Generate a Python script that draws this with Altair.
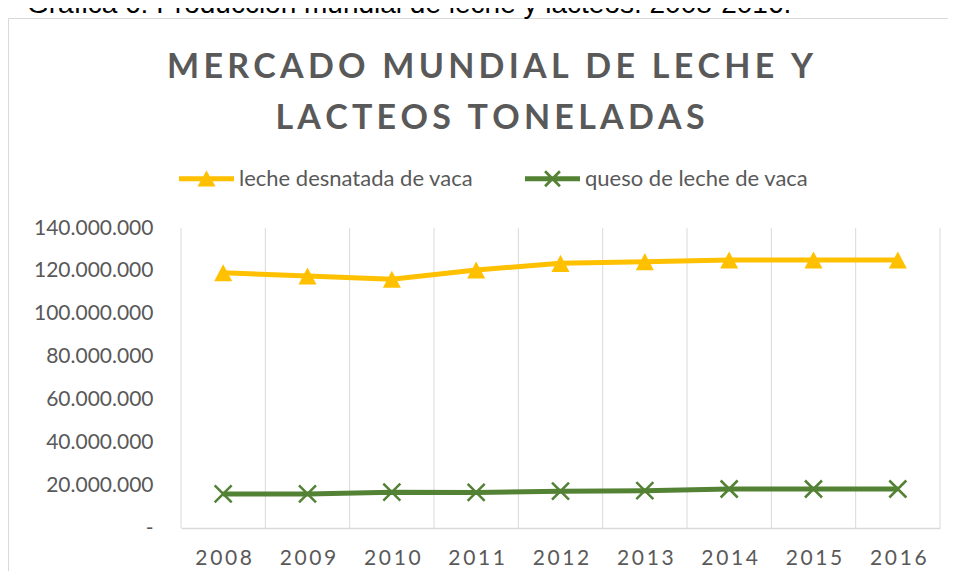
import altair as alt
import pandas as pd

# ---- data ----
years = [2008, 2009, 2010, 2011, 2012, 2013, 2014, 2015, 2016]
leche_desnatada = [119100000, 117600000, 116100000, 120400000, 123500000,
                   124300000, 125100000, 125100000, 125100000]
queso = [15900000, 15900000, 16700000, 16600000, 17200000,
         17400000, 18200000, 18200000, 18200000]
series = ["leche desnatada de vaca", "queso de leche de vaca"]
colors = ["#FFC000", "#548235"]
y_ticks = [0, 20000000, 40000000, 60000000, 80000000, 100000000, 120000000, 140000000]
title_lines = ["MERCADO MUNDIAL DE LECHE Y", "LACTEOS TONELADAS"]
caption = "Gráfica 6: Producción mundial de leche y lácteos. 2008-2016."

THIN = "\u2009"
GRAY = "#595959"
GRID = "#D9D9D9"

df = pd.DataFrame({
    "anio": years * 2,
    "valor": leche_desnatada + queso,
    "serie": [series[0]] * len(years) + [series[1]] * len(years),
})
bounds = pd.DataFrame({"anio": [y - 0.5 for y in years] + [years[-1] + 0.5]})
one = pd.DataFrame({"k": [0]})

W, H = 759, 300

xscale = alt.Scale(domain=[years[0] - 0.5, years[-1] + 0.5], nice=False, zero=False)
yscale = alt.Scale(domain=[0, 140000000], nice=False)
cscale = alt.Scale(domain=series, range=colors)

tri_path = "M0,-0.95L1,0.95L-1,0.95Z"
x_path = "M-1,-1L1,1M1,-1L-1,1"
leg_tri = "M-1,-0.09H1V0.09H-1Z M0,-0.3L0.33,0.28L-0.33,0.28Z"
leg_x = ("M-1,-0.09H1V0.09H-1Z "
         "M-0.235,-0.305L0.305,0.235L0.235,0.305L-0.305,-0.235Z "
         "M0.305,-0.235L-0.235,0.305L-0.305,0.235L0.235,-0.305Z")

x_axis = alt.Axis(values=years, title=None, grid=False, ticks=False,
                  domainColor=GRID, domainWidth=1.5, zindex=2,
                  labelExpr="join(split(toString(datum.value), ''), '" + THIN + "')",
                  labelFont="Lato", labelFontSize=21, labelColor=GRAY,
                  labelPadding=19, labelFlush=False)
y_axis = alt.Axis(values=y_ticks, title=None, grid=False, ticks=False, domain=False,
                  zindex=2,
                  labelExpr="datum.value == 0 ? '-' : replace(format(datum.value, ','), regexp(',', 'g'), '.')",
                  labelFont="Lato", labelFontSize=21, labelColor=GRAY, labelPadding=28)

legend = alt.Legend(title=None, orient="none", direction="horizontal",
                    legendX=-2, legendY=-77, padding=0, zindex=2,
                    symbolSize=3025, labelOffset=5, columnPadding=51,
                    labelFont="Lato", labelFontSize=22, labelColor=GRAY,
                    labelLimit=400, symbolStrokeWidth=0)

border = alt.Chart(one).mark_rect(fill="transparent", stroke=GRID, strokeWidth=1).encode(
    x=alt.value(-172.5), x2=alt.value(W + 50), y=alt.value(-209.5), y2=alt.value(H + 100))

cap = alt.Chart(one).mark_text(text=caption, font="Liberation Sans", fontSize=28,
                               color="#000000", align="left", baseline="alphabetic").encode(
    x=alt.value(-154), y=alt.value(-215))

t1 = alt.Chart(one).mark_text(text=THIN.join(list(title_lines[0])), font="Lato", fontSize=34,
                              fontWeight="bold", color=GRAY, align="center",
                              baseline="alphabetic").encode(x=alt.value(309), y=alt.value(-150))
t2 = alt.Chart(one).mark_text(text=THIN.join(list(title_lines[1])), font="Lato", fontSize=34,
                              fontWeight="bold", color=GRAY, align="center",
                              baseline="alphabetic").encode(x=alt.value(309), y=alt.value(-99))

base = alt.Chart(df).encode(
    x=alt.X("anio:Q", scale=xscale, axis=x_axis),
    y=alt.Y("valor:Q", scale=yscale, axis=y_axis),
)

grid = alt.Chart(bounds).mark_rule(color=GRID, strokeWidth=1).encode(
    x=alt.X("anio:Q", scale=xscale, axis=x_axis), y=alt.value(0), y2=alt.value(H))

leg = base.transform_filter("false").mark_point(filled=True, opacity=1).encode(
    color=alt.Color("serie:N", scale=cscale, legend=legend),
    shape=alt.Shape("serie:N", scale=alt.Scale(domain=series, range=[leg_tri, leg_x]),
                    legend=legend))

line1 = base.transform_filter(alt.datum.serie == series[0]).mark_line(
    strokeWidth=5, strokeJoin="round", color=colors[0])
line2 = base.transform_filter(alt.datum.serie == series[1]).mark_line(
    strokeWidth=5, strokeJoin="round", color=colors[1])

tris = base.transform_filter(alt.datum.serie == series[0]).mark_point(
    shape=tri_path, filled=True, size=324, opacity=1, color=colors[0])

xs = base.transform_filter(alt.datum.serie == series[1]).mark_point(
    shape=x_path, filled=False, size=289, strokeWidth=2.5, opacity=1, color=colors[1])

chart = alt.layer(border, cap, t1, t2, grid, leg, line1, line2, tris, xs).properties(
    width=W, height=H,
    autosize=alt.AutoSizeParams(type="none"),
    padding={"left": 173, "top": 220, "right": 8, "bottom": 43},
    background="white",
).configure_view(stroke=None)

chart.save("out.html", embed_options={"renderer": "svg", "actions": False})
